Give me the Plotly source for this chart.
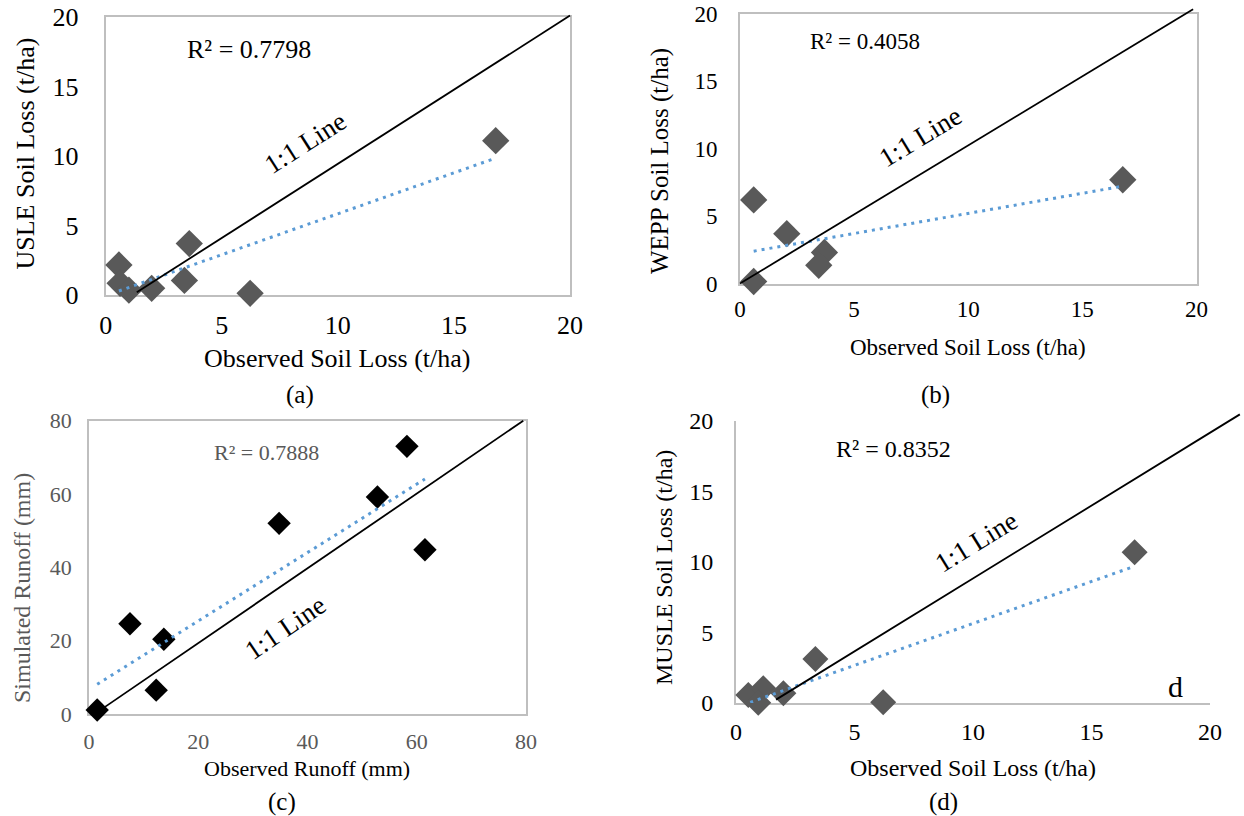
import plotly.graph_objects as go

W, H = 1244, 816
FONT = "Liberation Serif, Times New Roman, serif"

# ---------------- data ----------------
# (a) USLE
a_obs = [16.8, 3.6, 0.57, 0.62, 1.0, 1.98, 3.39, 6.22]
a_sim = [11.1, 3.7, 2.16, 0.84, 0.35, 0.48, 1.05, 0.12]
a_trend_x = [0.57, 16.8]
a_trend_y = [0.29, 9.85]
a_line_x = [1.34, 20.0]
a_line_y = [0.2, 20.1]
a_r2 = "R² = 0.7798"

# (b) WEPP
b_obs = [16.77, 0.6, 2.05, 3.7, 3.45, 0.6]
b_sim = [7.7, 6.2, 3.7, 2.3, 1.35, 0.15]
b_trend_x = [0.6, 16.7]
b_trend_y = [2.4, 7.2]
b_line_x = [0.0, 19.85]
b_line_y = [0.0, 20.35]
b_r2 = "R² = 0.4058"

# (c) Runoff
c_obs = [1.5, 7.5, 13.7, 12.3, 34.8, 52.8, 58.2, 61.5]
c_sim = [1.1, 24.6, 20.4, 6.5, 52.0, 59.2, 73.0, 44.8]
c_trend_x = [1.5, 61.5]
c_trend_y = [8.1, 64.1]
c_line_x = [2.6, 79.5]
c_line_y = [1.6, 80.0]
c_r2 = "R² = 0.7888"

# (d) MUSLE
d_obs = [16.82, 3.35, 6.21, 0.52, 1.15, 2.0, 0.94]
d_sim = [10.7, 3.12, 0.05, 0.57, 1.04, 0.69, 0.02]
d_trend_x = [0.6, 16.82]
d_trend_y = [0.05, 9.7]
d_line_x = [1.69, 21.26]
d_line_y = [0.24, 20.47]
d_r2 = "R² = 0.8352"

soil_ticks = [0, 5, 10, 15, 20]
runoff_ticks = [0, 20, 40, 60, 80]

# ---------------- layout specs ----------------
panels = [
    dict(obs=a_obs, sim=a_sim, tx=a_trend_x, ty=a_trend_y, lx=a_line_x, ly=a_line_y,
         r2=a_r2, ticks=soil_ticks, L=105.7, R=570, T=17, B=295, fs=26, yfs=26,
         tcol="#000000", ycol="#000000", r2col="#000000", box=True, mcol="#595959", msize=21,
         xstand=6, ystand=20,
         ytitle="USLE Soil Loss (t/ha)", ytpos=(25, 153.5),
         xtitle="Observed Soil Loss (t/ha)", xtpos=(337, 358),
         cap="(a)", cappos=(300, 395), r2pos=(249, 49), onepos=(305, 143), oneang=-32.6),
    dict(obs=b_obs, sim=b_sim, tx=b_trend_x, ty=b_trend_y, lx=b_line_x, ly=b_line_y,
         r2=b_r2, ticks=soil_ticks, L=740, R=1196.5, T=14, B=283.5, fs=23, yfs=25,
         tcol="#000000", ycol="#000000", r2col="#000000", box=True, mcol="#595959", msize=21,
         xstand=4, ystand=16,
         ytitle="WEPP Soil Loss (t/ha)", ytpos=(660, 161),
         xtitle="Observed Soil Loss (t/ha)", xtpos=(968, 347),
         cap="(b)", cappos=(935, 395), r2pos=(865, 41), onepos=(920, 137), oneang=-31.2),
    dict(obs=c_obs, sim=c_sim, tx=c_trend_x, ty=c_trend_y, lx=c_line_x, ly=c_line_y,
         r2=c_r2, ticks=runoff_ticks, L=89, R=526, T=420.7, B=714, fs=22, yfs=24,
         tcol="#595959", ycol="#595959", r2col="#595959", box=True, mcol="#000000", msize=18,
         xstand=7, ystand=11,
         ytitle="Simulated Runoff (mm)", ytpos=(22, 588),
         xtitle="Observed Runoff (mm)", xtpos=(307, 768),
         cap="(c)", cappos=(282, 802), r2pos=(266, 452), onepos=(285, 628), oneang=-34.4),
    dict(obs=d_obs, sim=d_sim, tx=d_trend_x, ty=d_trend_y, lx=d_line_x, ly=d_line_y,
         r2=d_r2, ticks=soil_ticks, L=736, R=1210, T=421, B=703, fs=24, yfs=24,
         tcol="#000000", ycol="#000000", r2col="#000000", box=False, mcol="#595959", msize=20,
         xstand=6, ystand=16,
         ytitle="MUSLE Soil Loss (t/ha)", ytpos=(664, 568),
         xtitle="Observed Soil Loss (t/ha)", xtpos=(973, 768),
         cap="(d)", cappos=(943, 802), r2pos=(893, 449), onepos=(976, 542), oneang=-31.6),
]


def px_x(x):
    return x / W


def px_y(y):
    return 1 - y / H


fig = go.Figure()
layout = dict(width=W, height=H, autosize=False, margin=dict(l=0, r=0, t=0, b=0, pad=0),
              template="none",
              paper_bgcolor="white", plot_bgcolor="rgba(0,0,0,0)",
              showlegend=False, font=dict(family=FONT, color="black"))
annotations = []
AX = "#BFBFBF"

for i, p in enumerate(panels):
    n = i + 1
    xn = "x" if n == 1 else f"x{n}"
    yn = "y" if n == 1 else f"y{n}"
    xk = "xaxis" if n == 1 else f"xaxis{n}"
    yk = "yaxis" if n == 1 else f"yaxis{n}"
    rng = [p["ticks"][0], p["ticks"][-1]]
    common = dict(range=rng, tickvals=p["ticks"], showgrid=False, zeroline=False,
                  ticks="", showline=True, linecolor=AX, linewidth=1.8,
                  mirror=p["box"], layer="below traces", automargin=False,
                  tickfont=dict(family=FONT, size=p["fs"], color=p["tcol"]))
    layout[xk] = dict(common, domain=[px_x(p["L"]), px_x(p["R"])], anchor=yn,
                      ticklabelstandoff=p["xstand"])
    layout[yk] = dict(common, domain=[px_y(p["B"]), px_y(p["T"])], anchor=xn,
                      ticklabelstandoff=p["ystand"])

    fig.add_trace(go.Scatter(x=p["obs"], y=p["sim"], mode="markers", xaxis=xn, yaxis=yn,
                             cliponaxis=False,
                             marker=dict(symbol="diamond", size=p["msize"], color=p["mcol"],
                                         line=dict(width=0))))
    fig.add_trace(go.Scatter(x=p["tx"], y=p["ty"], mode="lines", xaxis=xn, yaxis=yn,
                             line=dict(color="#5B9BD5", width=3, dash="3px,5px")))

    # overlay axes spanning the whole figure with the same scale (for the 1:1 line)
    on = n + 4
    oxk, oyk = f"xaxis{on}", f"yaxis{on}"
    sx = (p["R"] - p["L"]) / (rng[1] - rng[0])
    sy = (p["B"] - p["T"]) / (rng[1] - rng[0])
    layout[oxk] = dict(domain=[0, 1], anchor=f"y{on}", visible=False, automargin=False,
                       range=[rng[0] - p["L"] / sx, rng[0] + (W - p["L"]) / sx])
    layout[oyk] = dict(domain=[0, 1], anchor=f"x{on}", visible=False, automargin=False,
                       range=[rng[0] - (H - p["B"]) / sy, rng[0] + p["B"] / sy])
    p["ov"] = (f"x{on}", f"y{on}")

    def ann(text, pos, size, color="#000000", angle=0):
        annotations.append(dict(text=text, x=px_x(pos[0]), y=px_y(pos[1]),
                                xref="paper", yref="paper", showarrow=False,
                                xanchor="center", yanchor="middle", textangle=angle,
                                font=dict(family=FONT, size=size, color=color)))

    ann(p["ytitle"], p["ytpos"], p["yfs"], p["ycol"], -90)
    ann(p["xtitle"], p["xtpos"], p["fs"])
    ann(p["cap"], p["cappos"], 25)
    ann(p["r2"], p["r2pos"], p["fs"], p["r2col"])
    ann("1:1 Line", p["onepos"], 27, "#000000", p["oneang"])

# extra "d" label in panel (d)
annotations.append(dict(text="d", x=px_x(1175), y=px_y(686), xref="paper", yref="paper",
                        showarrow=False, xanchor="center", yanchor="middle",
                        font=dict(family=FONT, size=30, color="#000000")))

for p in panels:
    fig.add_trace(go.Scatter(x=p["lx"], y=p["ly"], mode="lines",
                             xaxis=p["ov"][0], yaxis=p["ov"][1],
                             line=dict(color="#000000", width=1.8)))

layout["annotations"] = annotations
fig.update_layout(**layout)
fig.write_html("out.html", config={"displayModeBar": False},
               post_script="document.body.style.margin='0';document.body.style.overflow='hidden';")
